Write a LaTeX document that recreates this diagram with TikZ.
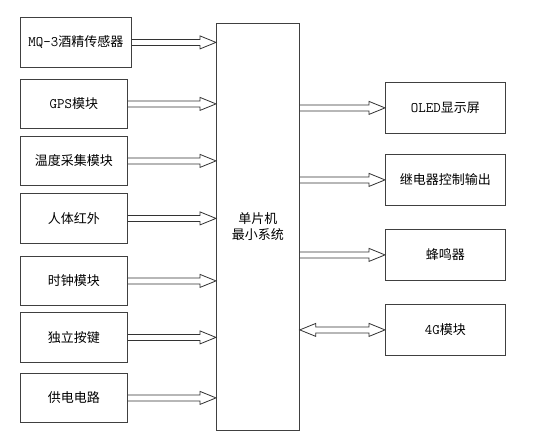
\documentclass[tikz,border=0pt]{standalone}
\usepackage{fontspec}
\setmainfont{Noto Sans CJK SC}
\newcommand\lt{\ttfamily\fontsize{14.5}{16}\selectfont}
\usetikzlibrary{calc}
\tikzset{
  box/.style={draw=black!75, line width=0.8pt, anchor=north west, inner sep=0pt,
    font=\fontsize{13}{16}\selectfont, align=center},
  arr/.style={draw=black!80, line width=0.8pt, line join=miter}
}
\newcommand\harrow[2]{%
  \draw[arr] let \p1=(#1), \p2=(#2) in
    (\x1,\y1+3pt) -- (\x2-16pt,\y1+3pt) -- (\x2-16pt,\y1+6.5pt) -- (\x2,\y1)
    -- (\x2-16pt,\y1-6.5pt) -- (\x2-16pt,\y1-3pt) -- (\x1,\y1-3pt);}
\newcommand\dharrow[2]{%
  \draw[arr] let \p1=(#1), \p2=(#2) in
    (\x1,\y1) -- (\x1+16pt,\y1+6.5pt) -- (\x1+16pt,\y1+3pt) -- (\x2-16pt,\y1+3pt)
    -- (\x2-16pt,\y1+6.5pt) -- (\x2,\y1) -- (\x2-16pt,\y1-6.5pt) -- (\x2-16pt,\y1-3pt)
    -- (\x1+16pt,\y1-3pt) -- (\x1+16pt,\y1-6.5pt) -- cycle;}
\begin{document}
\begin{tikzpicture}[x=1pt,y=-1pt]
\useasboundingbox[fill=white] (0,0) rectangle (533,442);
\node[box, minimum width=111pt, minimum height=50pt] (b1) at (20,17) {{\lt MQ-3}酒精传感器};
\node[box, minimum width=107pt, minimum height=49pt] (b2) at (20,79) {{\lt GPS}模块};
\node[box, minimum width=107pt, minimum height=49pt] (b3) at (20,136) {温度采集模块};
\node[box, minimum width=107pt, minimum height=50pt] (b4) at (20,193) {人体红外};
\node[box, minimum width=107pt, minimum height=49pt] (b5) at (20,256) {时钟模块};
\node[box, minimum width=107pt, minimum height=50pt] (b6) at (20,312) {独立按键};
\node[box, minimum width=107pt, minimum height=49pt] (b7) at (20,373) {供电电路};
\node[box, minimum width=83pt, minimum height=407pt] (m) at (216,23) {单片机\\最小系统};
\node[box, minimum width=120pt, minimum height=51pt] (r1) at (385,82) {{\lt OLED}显示屏};
\node[box, minimum width=120pt, minimum height=51pt] (r2) at (385,154) {继电器控制输出};
\node[box, minimum width=120pt, minimum height=51pt] (r3) at (385,229) {蜂鸣器};
\node[box, minimum width=120pt, minimum height=51pt] (r4) at (385,304) {{\lt 4G}模块};
\foreach \b in {b1,b2,b3,b4,b5,b6,b7}{\harrow{\b.east}{m.west |- \b.east}}
\foreach \r in {r1,r2,r3}{\harrow{m.east |- \r.west}{\r.west}}
\dharrow{m.east |- r4.west}{r4.west}
\end{tikzpicture}
\end{document}
